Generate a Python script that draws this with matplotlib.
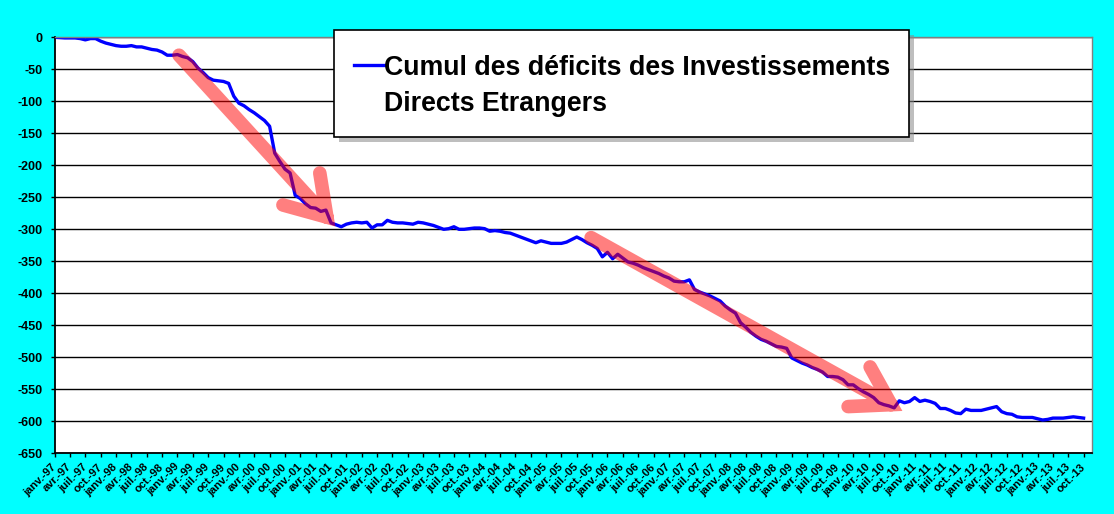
import numpy as np
import matplotlib
matplotlib.use("Agg")
from matplotlib import pyplot as plt
from matplotlib.patches import Rectangle, PathPatch
from matplotlib.path import Path
from matplotlib.lines import Line2D

plt.rcParams['font.family'] = ['Liberation Sans', 'DejaVu Sans']
plt.rcParams['font.weight'] = 'bold'
plt.rcParams['axes.unicode_minus'] = False

# quarterly tick labels (monthly data, jan 1997 -> oct 2013)
month_names = ["janv.", "avr.", "juil.", "oct."]
years = [97, 98, 99, 0, 1, 2, 3, 4, 5, 6, 7, 8, 9, 10, 11, 12, 13]

# cumulative FDI deficit, one value per month
deficit = [
    0, -0.5, -1, -1, -1, -2, -4, -2, -2, -6, -9, -11,            # 1997
    -13, -14, -14, -13, -15, -15, -17, -19, -20, -23, -28, -28,  # 1998
    -27, -30, -32, -38, -48, -55, -63, -67, -68, -69, -72, -92,  # 1999
    -103, -107, -113, -118, -124, -130, -139, -181, -194, -206, -212, -247,  # 2000
    -252, -260, -266, -267, -272, -270, -290, -293, -296, -292, -290, -289,  # 2001
    -290, -289, -298, -293, -293, -286, -289, -290, -290, -291, -292, -289,  # 2002
    -290, -292, -294, -297, -300, -299, -296, -300, -300, -299, -298, -298,  # 2003
    -299, -303, -302, -303, -305, -306, -309, -312, -315, -318, -321, -318,  # 2004
    -320, -322, -322, -322, -320, -316, -312, -316, -321, -325, -330, -343,  # 2005
    -336, -346, -339, -345, -351, -353, -356, -360, -363, -366, -369, -373,  # 2006
    -376, -381, -382, -382, -379, -394, -398, -401, -404, -408, -412, -420,  # 2007
    -426, -431, -446, -453, -461, -467, -472, -475, -479, -483, -484, -486,  # 2008
    -501, -505, -509, -512, -516, -519, -523, -530, -530, -531, -535, -543,  # 2009
    -543, -549, -554, -558, -563, -571, -574, -576, -579, -568, -571, -569,  # 2010
    -563, -569, -567, -569, -572, -580, -580, -583, -587, -588, -581, -583,  # 2011
    -583, -583, -581, -579, -577, -585, -588, -589, -593, -594, -594, -594,  # 2012
    -596, -598, -597, -595, -595, -595, -594, -593, -594, -595,              # 2013
]
series_label = "Cumul des déficits des Investissements\nDirects Etrangers"

# trend arrows drawn over the curve: (month index, value)
arrow_tails = [(24.3, -28), (104.8, -313)]
arrow_tips = [(53.2, -281), (163.4, -574)]
arrow_barbs = [[(51.8, -212), (44.6, -262)], [(159.3, -515), (155.0, -577)]]

labels = [f"{m}-{y:02d}" for y in years for m in month_names][:68]
months = np.arange(len(deficit))

fig = plt.figure(figsize=(11.14, 5.14), dpi=100, facecolor='#00FFFF')
ax = fig.add_axes([0.04901, 0.11809, 0.93151, 0.80934])
ax.set_facecolor('white')

ax.plot(months, deficit, color='#0000FF', lw=2.4, solid_joinstyle='round', zorder=2)

for tail, tip, (b1, b2) in zip(arrow_tails, arrow_tips, arrow_barbs):
    path = Path([tail, tip, b1, tip, b2],
                [Path.MOVETO, Path.LINETO, Path.MOVETO, Path.LINETO, Path.LINETO])
    ax.add_patch(PathPatch(path, facecolor='none', edgecolor='#FF0000', alpha=0.5,
                           lw=9.8, capstyle='round', joinstyle='miter', zorder=3))

ax.set_xlim(0, 202.7)
ax.set_ylim(-650, 0)
ax.set_yticks(np.arange(-650, 1, 50))
ax.set_xticks(np.arange(0, 3 * len(labels), 3))
ax.set_xticklabels(labels, rotation=45, ha='right', va='center', rotation_mode='anchor',
                   fontsize=8, fontweight='bold')
ax.tick_params(axis='y', labelsize=9, direction='out', length=3, width=1, pad=5.5)
ax.tick_params(axis='x', direction='out', length=3, width=1, pad=5.5)
ax.grid(axis='y', color='black', lw=1)
ax.set_axisbelow(True)
for side in ['top', 'right']:
    ax.spines[side].set_color('#808080')
    ax.spines[side].set_linewidth(1)
for side in ['left', 'bottom']:
    ax.spines[side].set_color('black')
    ax.spines[side].set_linewidth(1.3)

# legend box with drop shadow
bx, by, bw, bh = 0.2995, 0.734, 0.5169, 0.2082
fig.patches.append(Rectangle((bx + 0.0045, by - 0.0095), bw, bh, transform=fig.transFigure,
                             facecolor='#8a8a8a', edgecolor='none', alpha=0.55, zorder=5))
fig.patches.append(Rectangle((bx, by), bw, bh, transform=fig.transFigure,
                             facecolor='white', edgecolor='black', lw=1.2, zorder=6))
fig.lines.append(Line2D([0.3178, 0.3447], [0.8726, 0.8726], transform=fig.transFigure,
                        color='#0000FF', lw=2.4, zorder=7))
line1, line2 = series_label.split("\n")
fig.text(0.3449, 0.855, line1, fontsize=19.3, fontweight='bold', va='baseline', zorder=8)
fig.text(0.3449, 0.7833, line2, fontsize=19.3, fontweight='bold', va='baseline', zorder=8)

fig.savefig("out.png", dpi=100, facecolor=fig.get_facecolor())
